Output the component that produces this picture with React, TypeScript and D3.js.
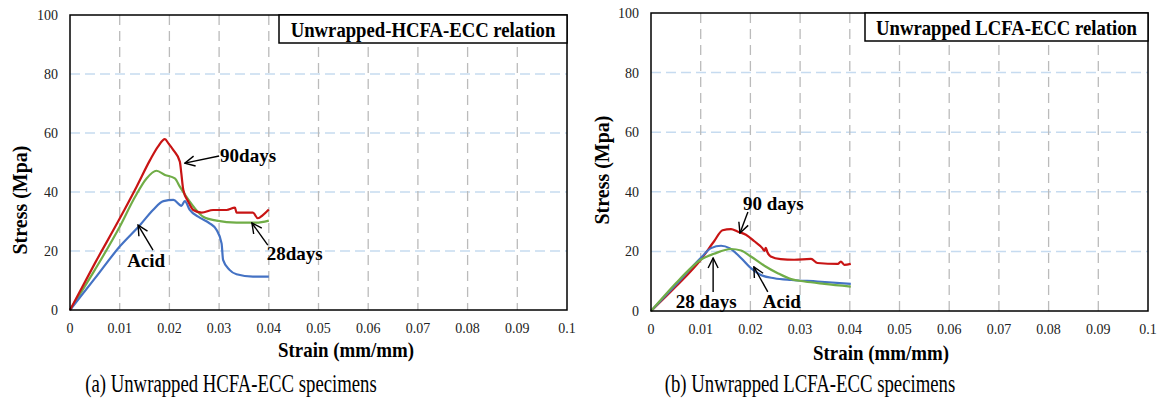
import React from "react";
import * as d3 from "d3";

// axis ticks (same for both panels)
const strainTicks = [0, 0.01, 0.02, 0.03, 0.04, 0.05, 0.06, 0.07, 0.08, 0.09, 0.1];
const stressTicks = [0, 20, 40, 60, 80, 100];

// (a) unwrapped HCFA-ECC, [strain, stress]
const hcfa90: [number, number][] = [
  [0, 0], [0.005, 15.8], [0.01, 31], [0.0134, 41.8], [0.0161, 50.8], [0.0177, 55.4],
  [0.0191, 57.9], [0.0198, 56.5], [0.0208, 54.2], [0.0221, 50.3], [0.0224, 46.3],
  [0.0228, 40.7], [0.0238, 36.7], [0.0248, 33.9], [0.0265, 33], [0.0288, 33.9],
  [0.0315, 33.9], [0.0332, 34.7], [0.0335, 33], [0.0368, 33], [0.0378, 31.1],
  [0.0388, 32.2], [0.04, 34.1],
];
const hcfa28: [number, number][] = [
  [0, 0], [0.005, 13.6], [0.01, 28.2], [0.0131, 38.4], [0.0154, 44.6], [0.0174, 47.2],
  [0.0191, 45.8], [0.0211, 44.6], [0.0221, 41.8], [0.0234, 38.4], [0.0251, 34.5],
  [0.0268, 31.6], [0.0295, 30.3], [0.0335, 29.6], [0.0375, 29.6], [0.04, 30.3],
];
const hcfaAcid: [number, number][] = [
  [0, 0], [0.005, 10.7], [0.01, 21.5], [0.0141, 28.8], [0.0167, 33.9], [0.0188, 36.9],
  [0.0208, 37.3], [0.0221, 35.6], [0.0224, 35.3], [0.0231, 36.9], [0.0241, 33.9],
  [0.0261, 31.3], [0.0281, 29.4], [0.0295, 27.1], [0.0305, 22.6], [0.0308, 17],
  [0.0321, 13.6], [0.0335, 12.1], [0.0368, 11.3], [0.04, 11.3],
];

// (b) unwrapped LCFA-ECC
const lcfa90: [number, number][] = [
  [0, 0], [0.005, 8.2], [0.01, 17.2], [0.0127, 23.4], [0.0144, 27.1], [0.0161, 27.5],
  [0.0174, 26.7], [0.0191, 25.6], [0.0208, 23.4], [0.0224, 21.1], [0.0228, 20.2],
  [0.0231, 21.2], [0.0234, 19.8], [0.0241, 18.3], [0.0261, 17.4], [0.0288, 17.2],
  [0.0322, 17.5], [0.0335, 16.1], [0.0376, 15.8], [0.0382, 16.6], [0.0389, 15.5],
  [0.0402, 15.8],
];
const lcfa28: [number, number][] = [
  [0, 0], [0.005, 9.3], [0.008, 14.4], [0.01, 17.2], [0.0127, 19.2], [0.0161, 20.8],
  [0.0181, 20.3], [0.0201, 18.3], [0.0228, 15.2], [0.0255, 12.7], [0.0282, 10.7],
  [0.0309, 9.9], [0.0349, 9.1], [0.0402, 8.2],
];
const lcfaAcid: [number, number][] = [
  [0, 0], [0.005, 8.8], [0.01, 17.8], [0.0121, 21.1], [0.0141, 21.9], [0.0158, 21.1],
  [0.0181, 17.8], [0.0201, 14.4], [0.0221, 12.1], [0.0248, 11], [0.0282, 10.4],
  [0.0335, 9.9], [0.0402, 9.1],
];

// callouts in data units: text start, arrow tail -> arrow tip
const hcfaNotes = [
  { text: "90days", tx: 0.0302, ty: 50.2, x1: 0.0300, y1: 52.2, x2: 0.0231, y2: 49.8 },
  { text: "28days", tx: 0.0396, ty: 17, x1: 0.0398, y1: 22, x2: 0.0366, y2: 29.5 },
  { text: "Acid", tx: 0.0115, ty: 14.6, x1: 0.0167, y1: 20.3, x2: 0.0137, y2: 28.8 },
];
const lcfaNotes = [
  { text: "90 days", tx: 0.0185, ty: 33.9, x1: 0.0195, y1: 33.2, x2: 0.0179, y2: 26.2 },
  { text: "28 days", tx: 0.005, ty: 1.0, x1: 0.0125, y1: 6.4, x2: 0.0125, y2: 17.8 },
  { text: "Acid", tx: 0.0225, ty: 1.0, x1: 0.0235, y1: 6.4, x2: 0.0207, y2: 14.8 },
];

const RED = "#C81414";
const GREEN = "#70AD47";
const BLUE = "#4472C4";
const FONT = "'Liberation Serif', 'Times New Roman', serif";

type Note = { text: string; tx: number; ty: number; x1: number; y1: number; x2: number; y2: number };

function Panel(props: {
  id: string;
  left: number; top: number; right: number; bottom: number;
  series: { data: [number, number][]; color: string }[];
  title: string;
  titleLeft: number;
  notes: Note[];
  yLabelX: number; yLabelY: number;
  xLabelX: number; xLabelY: number;
  caption: string; captionX: number; captionY: number;
}) {
  const x = d3.scaleLinear().domain([0, 0.1]).range([props.left, props.right]);
  const y = d3.scaleLinear().domain([0, 100]).range([props.bottom, props.top]);
  const line = d3.line<[number, number]>().x(d => x(d[0])).y(d => y(d[1])).curve(d3.curveMonotoneX);

  return (
    <g>
      <defs>
        <marker id={"arr" + props.id} viewBox="0 0 12 12" refX="11" refY="6" markerWidth="12" markerHeight="12"
          markerUnits="userSpaceOnUse" orient="auto">
          <path d="M1,1 L11,6 L1,11" fill="none" stroke="#000" strokeWidth="1.4" />
        </marker>
      </defs>
      {/* gridlines */}
      {stressTicks.slice(1, -1).map(t => (
        <line key={"h" + t} x1={props.left} x2={props.right} y1={y(t)} y2={y(t)}
          stroke="#C6DBF0" strokeWidth={1.5} strokeDasharray="10,5" />
      ))}
      {strainTicks.slice(1, -1).map(t => (
        <line key={"v" + t} x1={x(t)} x2={x(t)} y1={props.top} y2={props.bottom}
          stroke="#BBBBBB" strokeWidth={1.3} strokeDasharray="10,6" />
      ))}
      {props.series.map((s, i) => (
        <path key={i} d={line(s.data) || ""} fill="none" stroke={s.color} strokeWidth={2.2}
          strokeLinejoin="round" />
      ))}
      <rect x={props.left} y={props.top} width={props.right - props.left} height={props.bottom - props.top}
        fill="none" stroke="#000" strokeWidth={1.5} />
      {/* tick labels */}
      {stressTicks.map(t => (
        <text key={"yl" + t} x={props.left - 12} y={y(t)} dy="0.35em" textAnchor="end"
          fontSize={14} fontFamily={FONT} fill="#222">{t}</text>
      ))}
      {strainTicks.map(t => (
        <text key={"xl" + t} x={x(t)} y={props.bottom + 23} textAnchor="middle"
          fontSize={14} fontFamily={FONT} fill="#222">{String(t)}</text>
      ))}
      {/* title box */}
      <rect x={props.titleLeft} y={props.top} width={props.right - props.titleLeft} height={28}
        fill="#fff" stroke="#000" strokeWidth={1.5} />
      <text transform={`translate(${(props.titleLeft + props.right) / 2},${props.top + 21.5}) scale(0.85,1)`}
        textAnchor="middle" fontSize={22} fontWeight="bold" fontFamily={FONT}>{props.title}</text>
      {/* callouts */}
      {props.notes.map((n, i) => (
        <g key={"n" + i}>
          <line x1={x(n.x1)} y1={y(n.y1)} x2={x(n.x2)} y2={y(n.y2)} stroke="#000" strokeWidth={1.4}
            markerEnd={`url(#arr${props.id})`} />
          <text x={x(n.tx)} y={y(n.ty)} fontSize={19} fontWeight="bold" fontFamily={FONT}>{n.text}</text>
        </g>
      ))}
      {/* axis titles */}
      <text transform={`translate(${props.yLabelX},${props.yLabelY}) rotate(-90)`} textAnchor="middle"
        dominantBaseline="central" fontSize={20} fontWeight="bold" fontFamily={FONT}>Stress (Mpa)</text>
      <text transform={`translate(${props.xLabelX},${props.xLabelY}) scale(0.9,1)`} textAnchor="middle"
        dominantBaseline="central" fontSize={21} fontWeight="bold" fontFamily={FONT}>Strain (mm/mm)</text>
      <text transform={`translate(${props.captionX},${props.captionY}) scale(0.75,1)`} textAnchor="middle"
        fontSize={25} fontFamily={FONT}>{props.caption}</text>
    </g>
  );
}

export default function App() {
  return (
    <svg width={1160} height={401} style={{ position: "absolute", left: 0, top: 0, background: "#fff" }}>
      <Panel id="a" left={70} top={15} right={567} bottom={310}
        series={[{ data: hcfa28, color: GREEN }, { data: hcfaAcid, color: BLUE }, { data: hcfa90, color: RED }]}
        title="Unwrapped-HCFA-ECC  relation" titleLeft={279} notes={hcfaNotes}
        yLabelX={20} yLabelY={200} xLabelX={346} xLabelY={350}
        caption="(a) Unwrapped HCFA-ECC specimens" captionX={231} captionY={392} />
      <Panel id="b" left={651} top={13} right={1148} bottom={311}
        series={[{ data: lcfa90, color: RED }, { data: lcfaAcid, color: BLUE }, { data: lcfa28, color: GREEN }]}
        title="Unwrapped LCFA-ECC relation" titleLeft={865} notes={lcfaNotes}
        yLabelX={602} yLabelY={170} xLabelX={881} xLabelY={353}
        caption="(b) Unwrapped LCFA-ECC specimens" captionX={810} captionY={392} />
    </svg>
  );
}
